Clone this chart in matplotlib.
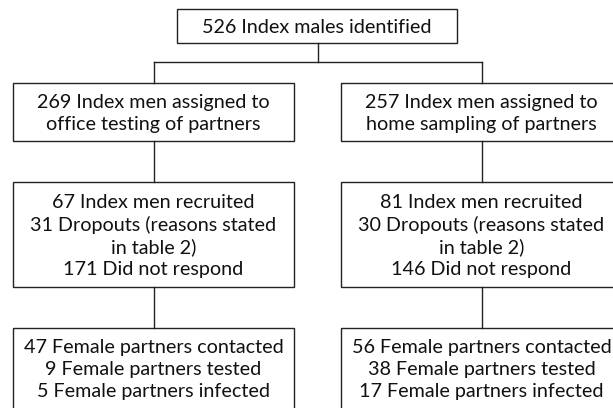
import matplotlib
matplotlib.use('Agg')
import matplotlib.pyplot as plt
from matplotlib.patches import Rectangle

# texts of the flowchart boxes
top_text = "526 Index males identified"
assigned = ["269 Index men assigned to\noffice testing of partners",
            "257 Index men assigned to\nhome sampling of partners"]
recruited = ["67 Index men recruited\n31 Dropouts (reasons stated\nin table 2)\n171 Did not respond",
             "81 Index men recruited\n30 Dropouts (reasons stated\nin table 2)\n146 Did not respond"]
partners = ["47 Female partners contacted\n9 Female partners tested\n5 Female partners infected",
            "56 Female partners contacted\n38 Female partners tested\n17 Female partners infected"]

LINE = '#222222'
FONT = 'Lato'
FS = 14.2
STEP = 22.5  # pixels between text lines

fig = plt.figure(figsize=(6.13, 4.08), dpi=100)
ax = fig.add_axes([0, 0, 1, 1])
ax.set_xlim(0, 613)
ax.set_ylim(408, 0)
ax.axis('off')


def box(x0, y0, x1, y1, text, ty=None):
    ax.add_patch(Rectangle((x0, y0), x1 - x0, y1 - y0, fill=False,
                           edgecolor=LINE, linewidth=1.0, clip_on=False))
    if ty is None:
        ty = (y0 + y1) / 2
    lines = text.split('\n')
    first = ty - STEP * (len(lines) - 1) / 2
    # one text per line so the spacing stays even
    for k, s in enumerate(lines):
        ax.text((x0 + x1) / 2, first + k * STEP, s, ha='center',
                va='center_baseline', fontsize=FS, family=FONT,
                color='#111111')


cols = [(13, 294), (341, 622)]
centers = [(a + b) / 2 for a, b in cols]
mid = sum(centers) / 2

# top box
box(177, 9, 457, 43, top_text)
ax.plot([mid, mid], [43, 62], color=LINE, lw=1.0)
ax.plot([centers[0], centers[1]], [62, 62], color=LINE, lw=1.0)

for i, (x0, x1) in enumerate(cols):
    c = centers[i]
    ax.plot([c, c], [62, 83], color=LINE, lw=1.0)
    box(x0, 83, x1, 141, assigned[i])
    ax.plot([c, c], [141, 182], color=LINE, lw=1.0)
    box(x0, 182, x1, 287, recruited[i])
    ax.plot([c, c], [287, 328], color=LINE, lw=1.0)
    box(x0, 328, x1, 430, partners[i], ty=368)

fig.savefig('out.png', dpi=100)
